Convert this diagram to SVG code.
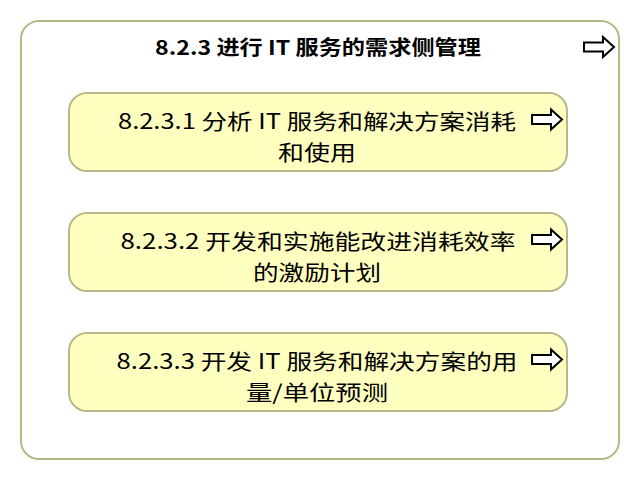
<svg xmlns="http://www.w3.org/2000/svg" xmlns:xlink="http://www.w3.org/1999/xlink" width="640" height="480" viewBox="0 0 640 480">
<style>
.outer{fill:#ffffff;stroke:#b8b888;stroke-width:2}
.box{fill:#ffffc0;stroke:#b8b888;stroke-width:2}
.t{font-family:"Noto Sans CJK SC","Noto Sans",sans-serif;fill:#000000;text-anchor:middle}
.title{font-size:20px;font-weight:bold}
.lbl{font-size:21px}
.arr{fill:#ffffff;stroke:#000000;stroke-width:2;stroke-linejoin:miter}
</style>
<defs>
<path id="arrow" class="arr" d="M0,-4.5 H19 V-10 L30,0 L19,10 V4.5 H0 Z"/>
</defs>
<rect width="640" height="480" fill="#ffffff"/>
<g id="container">
<rect class="outer" x="21" y="21" width="598" height="438" rx="18" ry="18"/>
<text class="t title" x="318" y="55" textLength="326" lengthAdjust="spacingAndGlyphs">8.2.3 进行 IT 服务的需求侧管理</text>
<use xlink:href="#arrow" x="584" y="47"/>
</g>
<g id="node1">
<rect class="box" x="69" y="93" width="498" height="78" rx="18" ry="18"/>
<text class="t lbl" x="317" y="129" textLength="398" lengthAdjust="spacingAndGlyphs">8.2.3.1 分析 IT 服务和解决方案消耗</text>
<text class="t lbl" x="317" y="160" textLength="78" lengthAdjust="spacingAndGlyphs">和使用</text>
<use xlink:href="#arrow" x="532" y="119.5"/>
</g>
<g id="node2">
<rect class="box" x="69" y="213" width="498" height="78" rx="18" ry="18"/>
<text class="t lbl" x="318" y="249" textLength="395" lengthAdjust="spacingAndGlyphs">8.2.3.2 开发和实施能改进消耗效率</text>
<text class="t lbl" x="317" y="280" textLength="128" lengthAdjust="spacingAndGlyphs">的激励计划</text>
<use xlink:href="#arrow" x="532" y="239.5"/>
</g>
<g id="node3">
<rect class="box" x="69" y="333" width="498" height="78" rx="18" ry="18"/>
<text class="t lbl" x="317" y="369" textLength="401" lengthAdjust="spacingAndGlyphs">8.2.3.3 开发 IT 服务和解决方案的用</text>
<text class="t lbl" x="317" y="400" textLength="142" lengthAdjust="spacingAndGlyphs">量/单位预测</text>
<use xlink:href="#arrow" x="532" y="359.5"/>
</g>
<g id="connectors"></g>
</svg>
